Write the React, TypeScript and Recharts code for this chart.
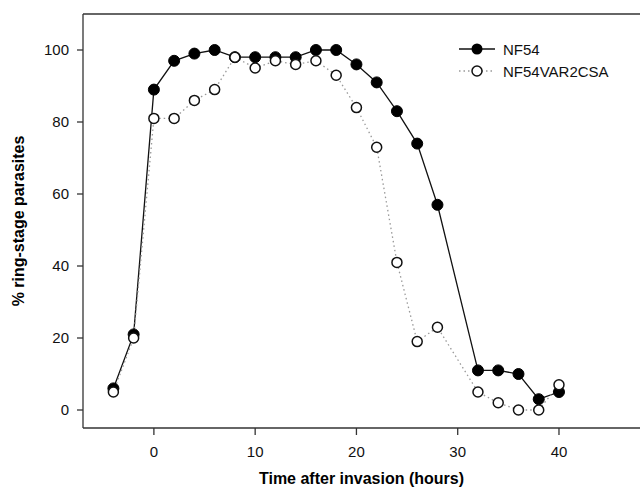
import { LineChart, Line, XAxis, YAxis, ReferenceLine, Legend } from "recharts";

// hours after invasion
const hours = [-4, -2, 0, 2, 4, 6, 8, 10, 12, 14, 16, 18, 20, 22, 24, 26, 28, 32, 34, 36, 38, 40];
const nf54 = [6, 21, 89, 97, 99, 100, 98, 98, 98, 98, 100, 100, 96, 91, 83, 74, 57, 11, 11, 10, 3, 5];
const nf54Var2csa = [5, 20, 81, 81, 86, 89, 98, 95, 97, 96, 97, 93, 84, 73, 41, 19, 23, 5, 2, 0, 0, 7];

const xTicks = [0, 10, 20, 30, 40];
const yTicks = [0, 20, 40, 60, 80, 100];

const data = hours.map((h, i) => ({ h, nf54: nf54[i], var2csa: nf54Var2csa[i] }));

const FONT = "'Liberation Sans', Arial, sans-serif";
const AXIS = "#333";

function FilledDot(props: any) {
  const { cx, cy } = props;
  if (cx == null || cy == null) return null;
  return <circle cx={cx} cy={cy} r={5.5} fill="#000" stroke="#000" strokeWidth={1} />;
}

function OpenDot(props: any) {
  const { cx, cy } = props;
  if (cx == null || cy == null) return null;
  return <circle cx={cx} cy={cy} r={5} fill="#fff" stroke="#111" strokeWidth={1.5} />;
}

function LegendBox() {
  return (
    <svg width={180} height={60} style={{ fontFamily: FONT, display: "block" }}>
      <line x1={4} y1={19} x2={40} y2={19} stroke="#111" strokeWidth={1.3} />
      <circle cx={22} cy={19} r={5.5} fill="#000" />
      <text x={48} y={19} dominantBaseline="central" fontSize={15} fill="#111">NF54</text>
      <line x1={4} y1={41} x2={40} y2={41} stroke="#999" strokeWidth={1.3} strokeDasharray="1.5 3" />
      <circle cx={22} cy={41} r={5} fill="#fff" stroke="#111" strokeWidth={1.5} />
      <text x={48} y={41} dominantBaseline="central" fontSize={15} fill="#111">NF54VAR2CSA</text>
    </svg>
  );
}

export default function App() {
  return (
    <div style={{ position: "absolute", left: 0, top: 0, width: 640, height: 496, background: "#fff" }}>
      <LineChart width={640} height={496} data={data} margin={{ top: 14, right: 0, left: 0, bottom: 0 }}>
        <XAxis
          dataKey="h"
          type="number"
          domain={[-7, 48]}
          ticks={xTicks}
          height={68}
          tickSize={7}
          tickMargin={11}
          stroke={AXIS}
          strokeWidth={1.3}
          tick={{ fill: "#111", fontSize: 15, fontFamily: FONT }}
          label={{
            content: (p: any) => (
              <text
                x={p.viewBox.x + p.viewBox.width / 2}
                y={p.viewBox.y + 56}
                textAnchor="middle"
                fontSize={16}
                fontWeight="bold"
                fontFamily={FONT}
                fill="#000"
              >
                Time after invasion (hours)
              </text>
            ),
          }}
        />
        <YAxis
          type="number"
          domain={[-5, 110]}
          ticks={yTicks}
          width={83}
          tickSize={6}
          tickMargin={8}
          stroke={AXIS}
          strokeWidth={1.3}
          tick={{ fill: "#111", fontSize: 15, fontFamily: FONT }}
          label={{
            content: (p: any) => {
              const cx = p.viewBox.x + 24;
              const cy = p.viewBox.y + p.viewBox.height / 2;
              return (
                <text
                  x={cx}
                  y={cy}
                  transform={`rotate(-90 ${cx} ${cy})`}
                  textAnchor="middle"
                  fontSize={16}
                  fontWeight="bold"
                  fontFamily={FONT}
                  fill="#000"
                >
                  % ring-stage parasites
                </text>
              );
            },
          }}
        />
        <ReferenceLine y={110} stroke={AXIS} strokeWidth={1.3} />
        <Legend
          layout="horizontal"
          verticalAlign="middle"
          align="center"
          wrapperStyle={{ position: "absolute", top: 30, left: 455, width: 180, height: 60 }}
          content={() => <LegendBox />}
        />
        <Line
          dataKey="nf54"
          name="NF54"
          stroke="#111"
          strokeWidth={1.3}
          dot={<FilledDot />}
          activeDot={false}
          isAnimationActive={false}
        />
        <Line
          dataKey="var2csa"
          name="NF54VAR2CSA"
          stroke="#999"
          strokeWidth={1.3}
          strokeDasharray="1.5 3"
          dot={<OpenDot />}
          activeDot={false}
          isAnimationActive={false}
        />
      </LineChart>
    </div>
  );
}
